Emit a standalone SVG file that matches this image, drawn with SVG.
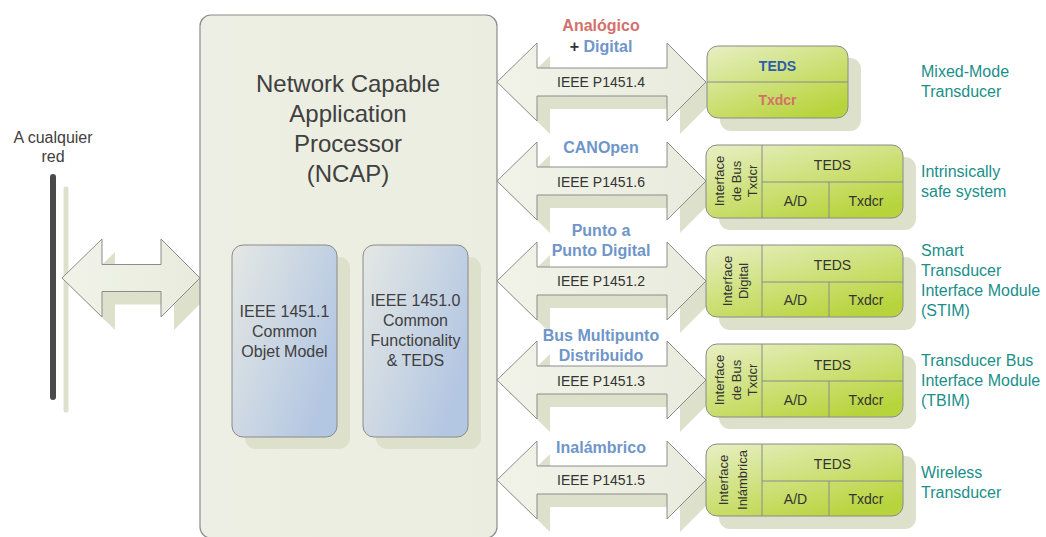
<svg xmlns="http://www.w3.org/2000/svg" width="1046" height="537" viewBox="0 0 1046 537">
  <style>
    text { font-family: "Liberation Sans", Arial, sans-serif; }
    .shadow { fill: #dde1cc; }
    .arrow { fill: url(#arrowGrad); stroke: #8c8c8c; stroke-width: 1; }
    .ncap { fill: url(#ncapGrad); stroke: #8c8c8c; stroke-width: 1.2; }
    .std { fill: url(#stdGrad); stroke: #8a8a8a; stroke-width: 1; }
    .dev { fill: url(#devGrad); stroke: #8a8a8a; stroke-width: 1; }
    .grid { stroke: #8a8a8a; stroke-width: 1; fill: none; }
    .title { font-size: 24px; fill: #404040; text-anchor: middle; }
    .dark { font-size: 16px; fill: #404040; text-anchor: middle; }
    .bus { font-size: 14px; fill: #333333; text-anchor: middle; }
    .cell { font-size: 14px; fill: #333333; text-anchor: middle; }
    .vert { font-size: 13px; fill: #333333; text-anchor: middle; }
    .kind { font-size: 16px; font-weight: bold; fill: #6f95c9; text-anchor: middle; }
    .red { fill: #d4706a; }
    .teds { fill: #2f5ea8; font-weight: bold; }
    .side { font-size: 16px; fill: #1a8f8a; }
  </style>
  <defs>
    <linearGradient id="arrowGrad" x1="0" y1="0" x2="1" y2="0">
      <stop offset="0" stop-color="#f1f3e9"/>
      <stop offset="1" stop-color="#e8ebdc"/>
    </linearGradient>
    <linearGradient id="ncapGrad" x1="0" y1="0" x2="1" y2="0">
      <stop offset="0" stop-color="#eeefe4"/>
      <stop offset="1" stop-color="#eaeddf"/>
    </linearGradient>
    <linearGradient id="stdGrad" x1="0" y1="0" x2="1" y2="0.6">
      <stop offset="0" stop-color="#e4e8e4"/>
      <stop offset="1" stop-color="#b3c6e2"/>
    </linearGradient>
    <linearGradient id="devGrad" x1="0" y1="0" x2="0.7" y2="1">
      <stop offset="0" stop-color="#e8efc4"/>
      <stop offset="1" stop-color="#b8d43c"/>
    </linearGradient>
    <!-- double-headed bus arrow, tip at origin -->
    <path id="busArrow" d="M0,0 L40,-39 L40,-14 L170,-14 L170,-39 L209,0 L170,39 L170,14 L40,14 L40,39 Z"/>
    <path id="netArrow" d="M0,0 L40,-39 L40,-13.5 L99,-13.5 L99,-39 L138,0 L99,39 L99,13.5 L40,13.5 L40,39 Z"/>
  </defs>

  <!-- network bus lines -->
  <g id="network">
    <line x1="66" y1="189" x2="66" y2="410" stroke="#dde1cc" stroke-width="5" stroke-linecap="round"/>
    <line x1="53" y1="177" x2="53" y2="397" stroke="#4a4a4a" stroke-width="6" stroke-linecap="round"/>
    <text class="dark" x="53" y="143">A cualquier</text>
    <text class="dark" x="53" y="162">red</text>
  </g>

  <!-- connectors -->
  <g id="connectors">
    <use href="#netArrow" class="shadow" x="75" y="291"/>
    <use href="#netArrow" class="arrow" x="62" y="278"/>

    <use href="#busArrow" class="shadow" x="510" y="95"/>
    <use href="#busArrow" class="arrow" x="497" y="82"/>
    <use href="#busArrow" class="shadow" x="510" y="194"/>
    <use href="#busArrow" class="arrow" x="497" y="181"/>
    <use href="#busArrow" class="shadow" x="510" y="294"/>
    <use href="#busArrow" class="arrow" x="497" y="281"/>
    <use href="#busArrow" class="shadow" x="510" y="393"/>
    <use href="#busArrow" class="arrow" x="497" y="380"/>
    <use href="#busArrow" class="shadow" x="510" y="493"/>
    <use href="#busArrow" class="arrow" x="497" y="480"/>

    <text class="bus" x="601" y="87">IEEE P1451.4</text>
    <text class="bus" x="601" y="187">IEEE P1451.6</text>
    <text class="bus" x="601" y="286">IEEE P1451.2</text>
    <text class="bus" x="601" y="386">IEEE P1451.3</text>
    <text class="bus" x="601" y="485">IEEE P1451.5</text>

    <text class="kind red" x="601" y="31">Analógico</text>
    <text class="kind" x="601" y="52"><tspan style="fill:#333333">+</tspan> Digital</text>
    <text class="kind" x="601" y="153">CANOpen</text>
    <text class="kind" x="601" y="236">Punto a</text>
    <text class="kind" x="601" y="256">Punto Digital</text>
    <text class="kind" x="601" y="341">Bus Multipunto</text>
    <text class="kind" x="601" y="361">Distribuido</text>
    <text class="kind" x="601" y="453">Inalámbrico</text>
  </g>

  <!-- network capable application processor -->
  <g id="ncap">
    <rect class="ncap" x="200" y="15" width="297" height="523" rx="11"/>
    <text class="title" x="348" y="92">Network Capable</text>
    <text class="title" x="348" y="122">Application</text>
    <text class="title" x="348" y="152">Processor</text>
    <text class="title" x="348" y="182">(NCAP)</text>
  </g>

  <g id="std-1451-1">
    <rect class="shadow" x="245" y="257" width="105" height="192" rx="11"/>
    <rect class="std" x="232" y="245" width="105" height="192" rx="11"/>
    <text class="dark" x="284.5" y="317">IEEE 1451.1</text>
    <text class="dark" x="284.5" y="337">Common</text>
    <text class="dark" x="284.5" y="357">Objet Model</text>
  </g>

  <g id="std-1451-0">
    <rect class="shadow" x="376" y="257" width="105" height="192" rx="11"/>
    <rect class="std" x="363" y="245" width="105" height="192" rx="11"/>
    <text class="dark" x="415.5" y="306">IEEE 1451.0</text>
    <text class="dark" x="415.5" y="326">Common</text>
    <text class="dark" x="415.5" y="346">Functionality</text>
    <text class="dark" x="415.5" y="366">&amp; TEDS</text>
  </g>

  <!-- transducer modules -->
  <g id="mixed-mode">
    <rect class="shadow" x="720" y="58" width="141" height="73" rx="11"/>
    <rect class="dev" x="707" y="46" width="141" height="72" rx="11"/>
    <line class="grid" x1="707" y1="82" x2="848" y2="82"/>
    <text class="cell teds" x="777.5" y="71">TEDS</text>
    <text class="cell red" x="777.5" y="105" font-weight="bold">Txdcr</text>
    <text class="side" x="921" y="77">Mixed-Mode</text>
    <text class="side" x="921" y="97">Transducer</text>
  </g>

  <g id="intrinsically-safe">
    <rect class="shadow" x="719" y="157" width="197" height="73" rx="11"/>
    <rect class="dev" x="706" y="145" width="197" height="73" rx="11"/>
    <path class="grid" d="M762,145 V218 M762,182 H903 M829,182 V218"/>
    <text class="cell" x="832.5" y="170">TEDS</text>
    <text class="cell" x="795.5" y="206">A/D</text>
    <text class="cell" x="866" y="206">Txdcr</text>
    <g transform="translate(736,181) rotate(-90)">
      <text class="vert" x="0" y="-12">Interface</text>
      <text class="vert" x="0" y="4.5">de Bus</text>
      <text class="vert" x="0" y="21">Txdcr</text>
    </g>
    <text class="side" x="921" y="177">Intrinsically</text>
    <text class="side" x="921" y="197">safe system</text>
  </g>

  <g id="stim">
    <rect class="shadow" x="719" y="257" width="197" height="73" rx="11"/>
    <rect class="dev" x="706" y="245" width="197" height="72" rx="11"/>
    <path class="grid" d="M762,245 V317 M762,282 H903 M829,282 V317"/>
    <text class="cell" x="832.5" y="270">TEDS</text>
    <text class="cell" x="795.5" y="305">A/D</text>
    <text class="cell" x="866" y="305">Txdcr</text>
    <g transform="translate(735,281) rotate(-90)">
      <text class="vert" x="0" y="-3.5">Interface</text>
      <text class="vert" x="0" y="12.5">Digital</text>
    </g>
    <text class="side" x="921" y="256">Smart</text>
    <text class="side" x="921" y="276">Transducer</text>
    <text class="side" x="921" y="296">Interface Module</text>
    <text class="side" x="921" y="316">(STIM)</text>
  </g>

  <g id="tbim">
    <rect class="shadow" x="719" y="356" width="197" height="73" rx="11"/>
    <rect class="dev" x="706" y="344" width="197" height="73" rx="11"/>
    <path class="grid" d="M762,344 V417 M762,381 H903 M829,381 V417"/>
    <text class="cell" x="832.5" y="370">TEDS</text>
    <text class="cell" x="795.5" y="405">A/D</text>
    <text class="cell" x="866" y="405">Txdcr</text>
    <g transform="translate(736,380) rotate(-90)">
      <text class="vert" x="0" y="-12">Interface</text>
      <text class="vert" x="0" y="4.5">de Bus</text>
      <text class="vert" x="0" y="21">Txdcr</text>
    </g>
    <text class="side" x="921" y="366">Transducer Bus</text>
    <text class="side" x="921" y="386">Interface Module</text>
    <text class="side" x="921" y="406">(TBIM)</text>
  </g>

  <g id="wireless">
    <rect class="shadow" x="719" y="456" width="197" height="73" rx="11"/>
    <rect class="dev" x="706" y="444" width="197" height="72" rx="11"/>
    <path class="grid" d="M762,444 V516 M762,481 H903 M829,481 V516"/>
    <text class="cell" x="832.5" y="469">TEDS</text>
    <text class="cell" x="795.5" y="504">A/D</text>
    <text class="cell" x="866" y="504">Txdcr</text>
    <g transform="translate(734,480) rotate(-90)">
      <text class="vert" x="0" y="-6">Interface</text>
      <text class="vert" x="0" y="12.5">Inlámbrica</text>
    </g>
    <text class="side" x="921" y="478">Wireless</text>
    <text class="side" x="921" y="498">Transducer</text>
  </g>
</svg>
